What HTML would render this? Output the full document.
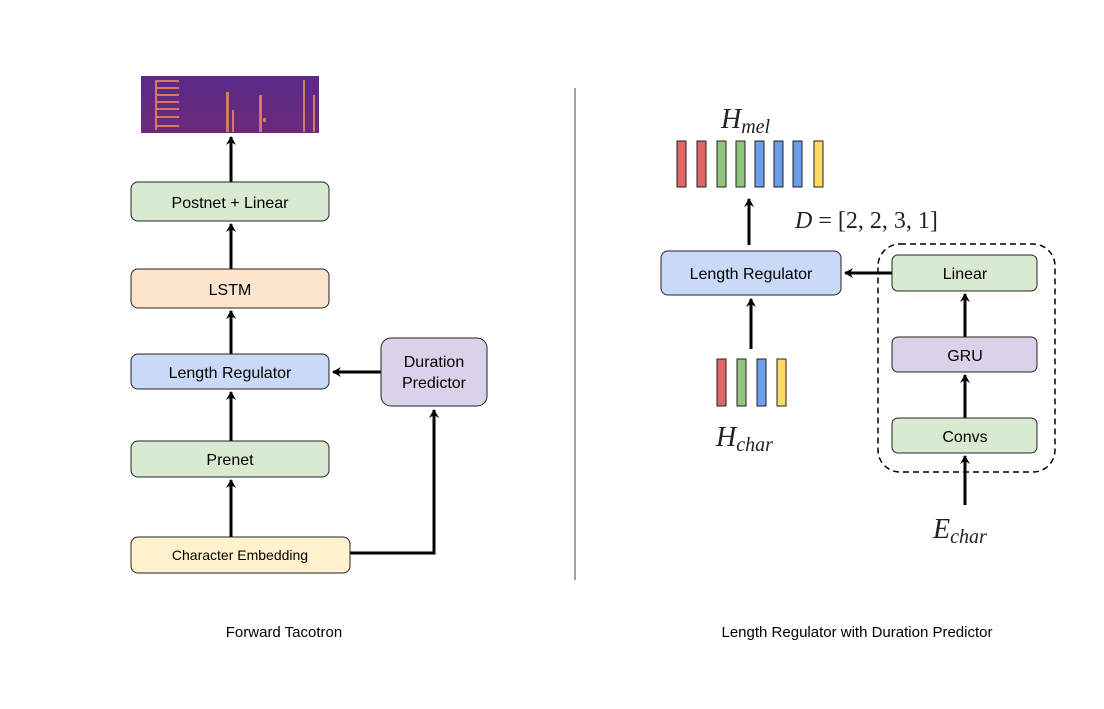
<!DOCTYPE html>
<html><head><meta charset="utf-8"><style>body{margin:0;background:#fff}svg{display:block}</style></head>
<body>
<svg width="1104" height="709" viewBox="0 0 1104 709" xmlns="http://www.w3.org/2000/svg" font-family="Liberation Sans, sans-serif">
<defs>
<marker id="ah" markerWidth="10" markerHeight="10" refX="8" refY="5" orient="auto" markerUnits="userSpaceOnUse">
<path d="M0,0 L9,5 L0,10 L3,5 Z" fill="#000"/>
</marker>
<linearGradient id="sg" x1="0" y1="0" x2="0" y2="1"><stop offset="0" stop-color="#5a2a8a"/><stop offset="1" stop-color="#6b2a7a"/></linearGradient>
</defs>
<!-- spectrogram -->
<rect x="141" y="76" width="178" height="57" fill="url(#sg)"/>
<g fill="#e8895a" opacity="0.85">
<rect x="157" y="80" width="22" height="2"/><rect x="157" y="87" width="22" height="2"/><rect x="157" y="94" width="22" height="2"/><rect x="157" y="101" width="22" height="2"/><rect x="157" y="108" width="22" height="2"/><rect x="157" y="116" width="22" height="2"/><rect x="157" y="125" width="22" height="2"/>
<rect x="155" y="80" width="2" height="50"/>
<rect x="226" y="92" width="3" height="40"/><rect x="232" y="110" width="2" height="22"/>
<rect x="259" y="95" width="3" height="37"/><rect x="263" y="118" width="3" height="4"/>
<rect x="303" y="80" width="2" height="52"/><rect x="313" y="95" width="2" height="37"/>
</g>
<g stroke="#000" stroke-width="3" fill="none">
<line x1="231" y1="182" x2="231" y2="137" marker-end="url(#ah)"/>
<line x1="231" y1="269" x2="231" y2="224" marker-end="url(#ah)"/>
<line x1="231" y1="354" x2="231" y2="311" marker-end="url(#ah)"/>
<line x1="231" y1="441" x2="231" y2="392" marker-end="url(#ah)"/>
<line x1="231" y1="537" x2="231" y2="480" marker-end="url(#ah)"/>
<polyline points="350,553 434,553 434,410" marker-end="url(#ah)"/>
<line x1="381" y1="372" x2="333" y2="372" marker-end="url(#ah)"/>
</g>
<g stroke="#222" stroke-width="1">
<rect x="131" y="182" width="198" height="39" rx="7" fill="#d9ead3"/>
<rect x="131" y="269" width="198" height="39" rx="7" fill="#fce5cd"/>
<rect x="131" y="354" width="198" height="35" rx="7" fill="#c9daf8"/>
<rect x="131" y="441" width="198" height="36" rx="7" fill="#d9ead3"/>
<rect x="131" y="537" width="219" height="36" rx="7" fill="#fff2cc"/>
<rect x="381" y="338" width="106" height="68" rx="10" fill="#d9d2e9"/>
</g>
<g font-size="16" text-anchor="middle" fill="#000">
<text x="230" y="208">Postnet + Linear</text>
<text x="230" y="295">LSTM</text>
<text x="230" y="378">Length Regulator</text>
<text x="230" y="465">Prenet</text>
<text x="240" y="560" font-size="14">Character Embedding</text>
<text x="434" y="367">Duration</text>
<text x="434" y="388">Predictor</text>
<text x="284" y="637" font-size="15">Forward Tacotron</text>
<text x="857" y="637" font-size="15">Length Regulator with Duration Predictor</text>
</g>
<line x1="575" y1="88" x2="575" y2="580" stroke="#444" stroke-width="1"/>
<!-- right -->
<g stroke="#222" stroke-width="1">
<rect x="677" y="141" width="9" height="46" fill="#e06666"/>
<rect x="697" y="141" width="9" height="46" fill="#e06666"/>
<rect x="717" y="141" width="9" height="46" fill="#93c47d"/>
<rect x="736" y="141" width="9" height="46" fill="#93c47d"/>
<rect x="755" y="141" width="9" height="46" fill="#6d9eeb"/>
<rect x="774" y="141" width="9" height="46" fill="#6d9eeb"/>
<rect x="793" y="141" width="9" height="46" fill="#6d9eeb"/>
<rect x="814" y="141" width="9" height="46" fill="#ffd966"/>
<rect x="717" y="359" width="9" height="47" fill="#e06666"/>
<rect x="737" y="359" width="9" height="47" fill="#93c47d"/>
<rect x="757" y="359" width="9" height="47" fill="#6d9eeb"/>
<rect x="777" y="359" width="9" height="47" fill="#ffd966"/>
</g>
<g stroke="#000" stroke-width="3" fill="none">
<line x1="749" y1="245" x2="749" y2="199" marker-end="url(#ah)"/>
<line x1="751" y1="349" x2="751" y2="299" marker-end="url(#ah)"/>
<line x1="892" y1="273" x2="845" y2="273" marker-end="url(#ah)"/>
<line x1="965" y1="337" x2="965" y2="294" marker-end="url(#ah)"/>
<line x1="965" y1="418" x2="965" y2="375" marker-end="url(#ah)"/>
<line x1="965" y1="505" x2="965" y2="456" marker-end="url(#ah)"/>
</g>
<rect x="878" y="244" width="177" height="228" rx="22" fill="none" stroke="#000" stroke-width="1.5" stroke-dasharray="6,4"/>
<g stroke="#222" stroke-width="1">
<rect x="661" y="251" width="180" height="44" rx="7" fill="#c9daf8"/>
<rect x="892" y="255" width="145" height="36" rx="6" fill="#d9ead3"/>
<rect x="892" y="337" width="145" height="35" rx="6" fill="#d9d2e9"/>
<rect x="892" y="418" width="145" height="35" rx="6" fill="#d9ead3"/>
</g>
<g font-size="16" text-anchor="middle" fill="#000">
<text x="751" y="279">Length Regulator</text>
<text x="965" y="279">Linear</text>
<text x="965" y="361">GRU</text>
<text x="965" y="442">Convs</text>
</g>
<g font-family="Liberation Serif, serif" fill="#222" font-style="italic">
<text x="721" y="128" font-size="28">H<tspan font-size="20" dy="5">mel</tspan></text>
<text x="716" y="446" font-size="28">H<tspan font-size="20" dy="5">char</tspan></text>
<text x="933" y="538" font-size="28">E<tspan font-size="20" dy="5">char</tspan></text>
<text x="795" y="228" font-size="24">D <tspan font-style="normal">= [2, 2, 3, 1]</tspan></text>
</g>
</svg>
</body></html>
